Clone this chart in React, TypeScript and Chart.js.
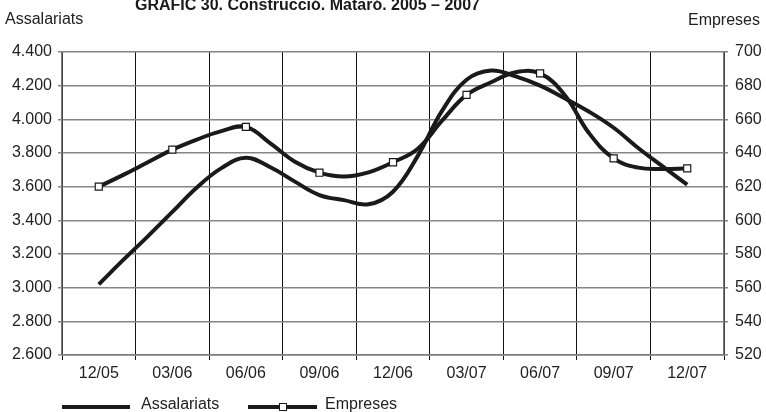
import React, { useEffect, useRef } from "react";
import { Chart, registerables } from "chart.js";

Chart.register(...registerables);

const months = [
  "12/05", "01/06", "02/06", "03/06", "04/06", "05/06", "06/06", "07/06", "08/06",
  "09/06", "10/06", "11/06", "12/06", "01/07", "02/07", "03/07", "04/07", "05/07",
  "06/07", "07/07", "08/07", "09/07", "10/07", "11/07", "12/07",
];

const assalariats = [
  3020, 3165, 3305, 3450, 3595, 3710, 3772, 3715, 3630,
  3550, 3520, 3495, 3570, 3780, 4050, 4235, 4290, 4255,
  4200, 4125, 4045, 3950, 3830, 3720, 3612,
];

const empreses = [
  620, 627, 634.5, 642, 648, 653, 655.5, 645.7, 634.8,
  628.3, 626, 628.5, 634.5, 642.4, 659.2, 674.5, 682, 688,
  687.3, 674.5, 651.7, 636.8, 631.3, 630.5, 630.9,
];

const leftTicks = { min: 2600, max: 4400, step: 200 };
const rightTicks = { min: 520, max: 700, step: 20 };

const TITLE = "GRÀFIC 30. Construcció. Mataró. 2005 – 2007";
const FONT = "'Liberation Sans', Arial, Helvetica, sans-serif";
const INK = "#1a1a1a";

function fmtThousands(v: number): string {
  const s = Math.round(v).toString();
  return s.replace(/\B(?=(\d{3})+(?!\d))/g, ".");
}

export default function App() {
  const ref = useRef<HTMLCanvasElement | null>(null);

  useEffect(() => {
    document.body.style.margin = "0";
    const canvas = ref.current;
    if (!canvas) return;
    const isLabel = (v: number) => {
      const i = Math.round(v);
      return Math.abs(v - i) < 1e-6 && i % 3 === 0;
    };
    const chart = new Chart(canvas, {
      type: "line",
      data: {
        datasets: [
          {
            label: "Empreses",
            data: empreses.map((v, i) => ({ x: i, y: v })),
            yAxisID: "y1",
            borderColor: INK,
            borderWidth: 4,
            tension: 0.4,
            borderJoinStyle: "round",
            pointStyle: "rect",
            pointRadius: empreses.map((_, i) => (i % 3 === 0 ? 5 : 0)),
            pointBackgroundColor: "#ffffff",
            pointBorderColor: INK,
            pointBorderWidth: 1.2,
          },
          {
            label: "Assalariats",
            data: assalariats.map((v, i) => ({ x: i, y: v })),
            yAxisID: "y",
            borderColor: INK,
            borderWidth: 4,
            tension: 0.4,
            borderJoinStyle: "round",
            pointRadius: 0,
          },
        ],
      },
      options: {
        responsive: false,
        animation: false,
        devicePixelRatio: 1,
        layout: { padding: { top: 52, left: 0, right: 0, bottom: 0 } },
        plugins: {
          legend: { display: false },
          tooltip: { enabled: false },
          title: { display: false },
        },
        scales: {
          x: {
            type: "linear",
            min: -1.5,
            max: 25.5,
            afterFit: (s: any) => {
              s.height = 57;
            },
            ticks: {
              stepSize: 1.5,
              autoSkip: false,
              maxRotation: 0,
              minRotation: 0,
              padding: 4,
              color: "#222",
              font: { family: FONT, size: 16 },
              callback: (v: any) => {
                const n = Number(v);
                if (!isLabel(n)) return "";
                const i = Math.round(n);
                return i >= 0 && i < months.length ? months[i] : "";
              },
            },
            grid: {
              color: (ctx: any) =>
                ctx.tick && isLabel(ctx.tick.value) ? "rgba(0,0,0,0)" : "#111",
              lineWidth: 1,
              tickLength: 5,
            },
            border: { display: true, color: "#7a7a7a", width: 1.5 },
          },
          y: {
            type: "linear",
            position: "left",
            min: leftTicks.min,
            max: leftTicks.max,
            afterFit: (s: any) => {
              s.width = 62;
            },
            ticks: {
              stepSize: leftTicks.step,
              padding: 6,
              color: "#222",
              font: { family: FONT, size: 16 },
              callback: (v: any) => fmtThousands(Number(v)),
            },
            grid: { color: "#858585", lineWidth: 1.5, tickLength: 4 },
            border: { display: true, color: "#7a7a7a", width: 1.5 },
          },
          y1: {
            type: "linear",
            position: "right",
            min: rightTicks.min,
            max: rightTicks.max,
            afterFit: (s: any) => {
              s.width = 42;
            },
            ticks: {
              stepSize: rightTicks.step,
              padding: 7,
              color: "#222",
              font: { family: FONT, size: 16 },
            },
            grid: {
              drawOnChartArea: false,
              color: "#858585",
              lineWidth: 1.5,
              tickLength: 4,
            },
            border: { display: true, color: "#7a7a7a", width: 1.5 },
          },
        },
      },
    });
    return () => chart.destroy();
  }, []);

  const txt: React.CSSProperties = {
    position: "absolute",
    fontFamily: FONT,
    fontSize: 16,
    lineHeight: "16px",
    color: "#222",
    whiteSpace: "nowrap",
  };

  return (
    <div
      style={{
        position: "relative",
        width: 766,
        height: 412,
        overflow: "hidden",
        background: "#fff",
      }}
    >
      <canvas
        ref={ref}
        width={766}
        height={412}
        style={{ position: "absolute", left: 0, top: 0, width: 766, height: 412 }}
      />
      <div style={{ ...txt, left: 135, top: -3, fontWeight: "bold", color: "#1a1a1a" }}>
        {TITLE}
      </div>
      <div style={{ ...txt, left: 5, top: 11 }}>Assalariats</div>
      <div style={{ ...txt, right: 6, top: 12 }}>Empreses</div>
      {/* legend */}
      <div
        style={{
          position: "absolute",
          left: 62,
          top: 404.5,
          width: 68,
          height: 4,
          background: INK,
        }}
      />
      <div style={{ ...txt, left: 141, top: 396 }}>Assalariats</div>
      <div
        style={{
          position: "absolute",
          left: 248,
          top: 404.5,
          width: 69,
          height: 4,
          background: INK,
        }}
      />
      <div
        style={{
          position: "absolute",
          left: 279,
          top: 402.5,
          width: 6,
          height: 6,
          background: "#fff",
          border: `1px solid ${INK}`,
        }}
      />
      <div style={{ ...txt, left: 325, top: 396 }}>Empreses</div>
    </div>
  );
}
